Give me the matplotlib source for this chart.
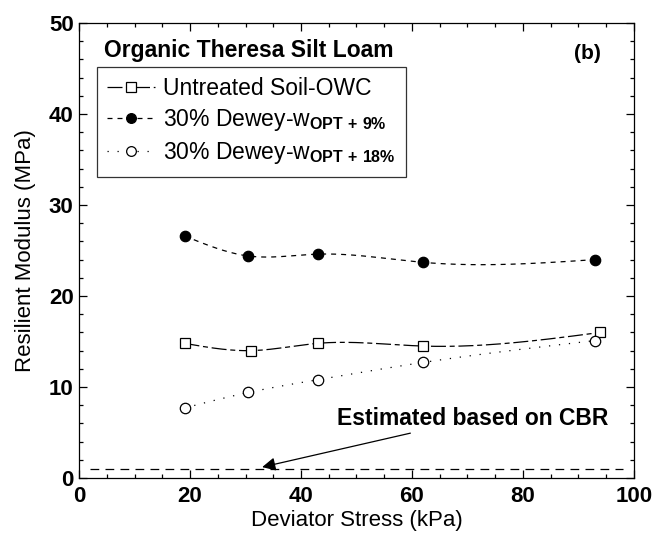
import matplotlib.pyplot as plt
import numpy as np
from matplotlib.ticker import MultipleLocator

plt.rcParams['font.family'] = ['Liberation Sans', 'DejaVu Sans']
plt.rcParams['mathtext.fontset'] = 'custom'
plt.rcParams['mathtext.rm'] = 'Liberation Sans'
plt.rcParams['mathtext.bf'] = 'Liberation Sans:bold'

# deviator stress (kPa) and resilient modulus (MPa)
x_untreated = [19, 31, 43, 62, 94]
mr_untreated = [14.8, 14.0, 14.8, 14.5, 16.0]
x_opt9 = [19, 30.5, 43, 62, 93]
mr_opt9 = [26.6, 24.4, 24.6, 23.7, 24.0]
x_opt18 = [19, 30.5, 43, 62, 93]
mr_opt18 = [7.7, 9.4, 10.8, 12.7, 15.1]
cbr_estimate = 1.0

labels = ['Untreated Soil-OWC',
          r'30% Dewey-w$_{\mathbf{OPT\ {+}\ 9\%}}$',
          r'30% Dewey-w$_{\mathbf{OPT\ {+}\ 18\%}}$']


def spline(x, y, n=200):
    # natural cubic spline through the points, for the smooth connecting curve
    x = np.asarray(x, float)
    y = np.asarray(y, float)
    h = np.diff(x)
    m = len(x)
    A = np.zeros((m, m))
    b = np.zeros(m)
    A[0, 0] = A[-1, -1] = 1
    for i in range(1, m - 1):
        A[i, i - 1] = h[i - 1]
        A[i, i] = 2 * (h[i - 1] + h[i])
        A[i, i + 1] = h[i]
        b[i] = 6 * ((y[i + 1] - y[i]) / h[i] - (y[i] - y[i - 1]) / h[i - 1])
    M = np.linalg.solve(A, b)
    xs = np.linspace(x[0], x[-1], n)
    k = np.clip(np.searchsorted(x, xs) - 1, 0, m - 2)
    t0 = x[k + 1] - xs
    t1 = xs - x[k]
    hk = h[k]
    ys = (M[k] * t0 ** 3 + M[k + 1] * t1 ** 3) / (6 * hk) \
        + (y[k] / hk - M[k] * hk / 6) * t0 + (y[k + 1] / hk - M[k + 1] * hk / 6) * t1
    return xs, ys


fig = plt.figure(figsize=(6.54, 5.35), dpi=100)
ax = fig.add_axes([0.121, 0.1065, 0.848, 0.8505])

styles = [
    dict(marker='s', mfc='white', dashes=(12, 3, 4, 3)),
    dict(marker='o', mfc='black', dashes=(4, 4)),
    dict(marker='o', mfc='white', dashes=(1, 7)),
]
series = [(x_untreated, mr_untreated), (x_opt9, mr_opt9), (x_opt18, mr_opt18)]

for (xv, yv), st, lab in zip(series, styles, labels):
    xs, ys = spline(xv, yv)
    ax.plot(xs, ys, color='black', lw=0.9, dashes=st['dashes'])
    ax.plot(xv, yv, ls='none', marker=st['marker'], mfc=st['mfc'],
            mec='black', mew=0.9, ms=7.5)
    ax.plot([], [], color='black', lw=0.9, dashes=st['dashes'],
            marker=st['marker'], mfc=st['mfc'], mec='black', mew=0.9, ms=7,
            label=lab)

ax.plot([2, 98], [cbr_estimate, cbr_estimate], color='black', lw=0.9,
        dashes=(7, 5))
ax.annotate('Estimated based on CBR', xy=(33, 1.2), xytext=(46.5, 6.5),
            fontsize=16.5, fontweight='bold', va='center', ha='left',
            arrowprops=dict(arrowstyle='-|>', color='black', lw=0.9,
                            mutation_scale=20, shrinkA=0, shrinkB=0))

ax.text(4.5, 47.0, 'Organic Theresa Silt Loam', fontsize=16.5,
        fontweight='bold', va='center', ha='left')
ax.text(91.7, 46.7, '(b)', fontsize=15, fontweight='bold', va='center',
        ha='center')

leg = ax.legend(loc='upper left', bbox_to_anchor=(0.032, 0.903), fontsize=16.5,
                frameon=True, fancybox=False, handlelength=2.1,
                handletextpad=0.35, borderpad=0.45, labelspacing=0.3,
                borderaxespad=0)
leg.get_frame().set_edgecolor('black')
leg.get_frame().set_linewidth(0.9)

ax.set_xlim(0, 100)
ax.set_ylim(0, 50)
ax.xaxis.set_major_locator(MultipleLocator(20))
ax.xaxis.set_minor_locator(MultipleLocator(5))
ax.yaxis.set_major_locator(MultipleLocator(10))
ax.yaxis.set_minor_locator(MultipleLocator(2))
ax.tick_params(which='both', direction='in', top=True, right=True, width=0.9)
ax.tick_params(which='major', length=6, labelsize=16)
ax.tick_params(which='minor', length=3)
ax.tick_params(axis='x', which='major', pad=6)
ax.tick_params(axis='y', which='major', pad=4)
for lbl in ax.get_xticklabels() + ax.get_yticklabels():
    lbl.set_fontweight('bold')
for sp in ax.spines.values():
    sp.set_linewidth(0.9)

ax.set_xlabel('Deviator Stress (kPa)', fontsize=16, labelpad=2)
ax.set_ylabel('Resilient Modulus (MPa)', fontsize=16, labelpad=9)

fig.savefig('out.png', dpi=100)
